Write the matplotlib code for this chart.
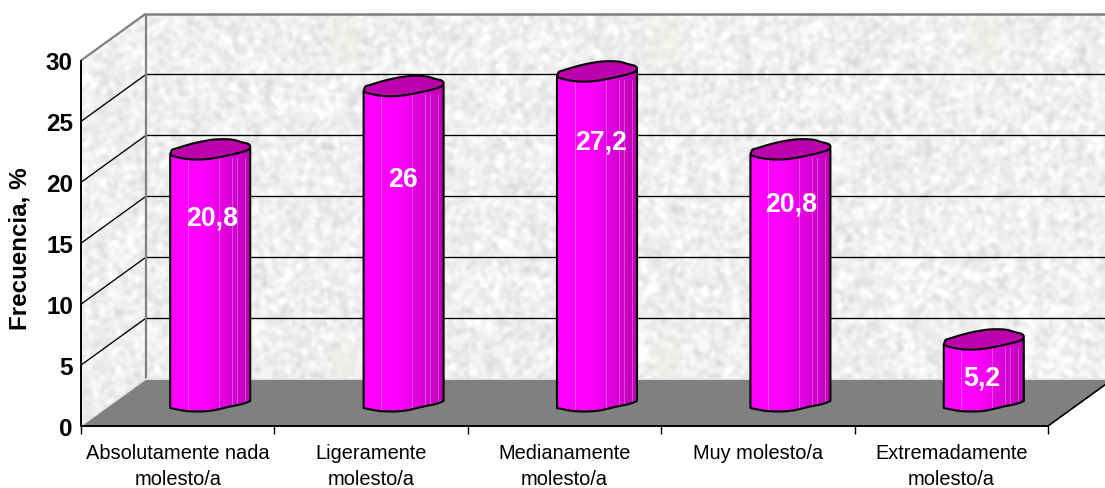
import numpy as np
import matplotlib
matplotlib.use("Agg")
import matplotlib.pyplot as plt
from matplotlib.colors import LinearSegmentedColormap
from matplotlib.patches import Polygon

plt.rcParams['font.family'] = ['Liberation Sans', 'DejaVu Sans']

# ---- data ----
categories = ["Absolutamente nada\nmolesto/a", "Ligeramente\nmolesto/a",
              "Medianamente\nmolesto/a", "Muy molesto/a",
              "Extremadamente\nmolesto/a"]
values = [20.8, 26, 27.2, 20.8, 5.2]
value_labels = ["20,8", "26", "27,2", "20,8", "5,2"]
y_ticks = [0, 5, 10, 15, 20, 25, 30]
y_label = "Frecuencia, %"

# ---- layout (pixels of the 1105x489 canvas) ----
W, H = 1105, 489
FX0, FX1, FY0, FY30 = 81.0, 1048.0, 427.0, 61.5
DEPTH_X, DEPTH_Y = 65.0, 47.0
fig = plt.figure(figsize=(W / 100, H / 100), dpi=100, facecolor='white')
ax = fig.add_axes([FX0 / W, (H - FY0) / H, (FX1 - FX0) / W, (FY0 - FY30) / H])
ax.set_xlim(0, len(categories))
ax.set_ylim(0, 30)
ax.patch.set_visible(False)

CAT_PX = (FX1 - FX0) / len(categories)
VAL_PX = (FY0 - FY30) / 30.0


def proj(cat, val, depth=0.0, ox=0.0, oy=0.0):
    """data position + depth (0..1) + pixel offset -> data coords"""
    return (cat + (depth * DEPTH_X + ox) / CAT_PX,
            val + (depth * DEPTH_Y - oy) / VAL_PX)


def chaikin(pts, rounds=2, closed=False):
    """round an outline by corner cutting"""
    pts = [tuple(p) for p in pts]
    for _ in range(rounds):
        out = [] if closed else [pts[0]]
        m = len(pts)
        for j in range(m if closed else m - 1):
            a, b = pts[j], pts[(j + 1) % m]
            out.append((0.75 * a[0] + 0.25 * b[0], 0.75 * a[1] + 0.25 * b[1]))
            out.append((0.25 * a[0] + 0.75 * b[0], 0.25 * a[1] + 0.75 * b[1]))
        if not closed:
            out.append(pts[-1])
        pts = out
    return pts


# ---- mottled wall texture (deterministic hash noise, smoothed) ----
yy, xx = np.mgrid[0:H, 0:W]
h = np.sin(xx * 12.9898 + yy * 78.233) * 43758.5453
h = h - np.floor(h)
h2 = np.sin(xx * 39.346 + yy * 11.135) * 24634.6345
h2 = h2 - np.floor(h2)


def smooth(a, s):
    fy = np.fft.fftfreq(a.shape[0])[:, None]
    fx = np.fft.fftfreq(a.shape[1])[None, :]
    return np.fft.ifft2(np.fft.fft2(a) * np.exp(-2 * (np.pi * s) ** 2 * (fx ** 2 + fy ** 2))).real


n = smooth(h, 2.2) + 0.3 * smooth(h2, 6)
n = (n - n.mean()) / n.std()
gray = np.clip(240 + 6.5 * n, 212, 255) / 255.0
tex = np.dstack([gray, gray, gray])
# faint beige motifs of the tiled picture
for cx, cy in [(345, 40), (665, 40), (985, 40), (345, 365), (665, 362), (985, 365)]:
    m = np.exp(-(((xx - cx) / 15.0) ** 4 + ((yy - cy) / 24.0) ** 4))
    tex[..., 0] = tex[..., 0] * (1 - 0.55 * m) + 0.93 * 0.55 * m
    tex[..., 1] = tex[..., 1] * (1 - 0.55 * m) + 0.935 * 0.55 * m
    tex[..., 2] = tex[..., 2] * (1 - 0.55 * m) + 0.88 * 0.55 * m

x_ext0, _ = proj(0, 0, 0, -FX0, 0)
x_ext1, _ = proj(0, 0, 0, W - FX0, 0)
_, y_ext0 = proj(0, 0, 0, 0, H - FY0)
_, y_ext1 = proj(0, 0, 0, 0, -FY0)
n_cat = len(categories)
top = y_ticks[-1]
corners = {
    'fl0': proj(0, 0), 'fl1': proj(0, top),
    'bl0': proj(0, 0, 1), 'bl1': proj(0, top, 1),
    'br0': proj(n_cat, 0, 1), 'br1': proj(n_cat, top, 1),
    'fr0': proj(n_cat, 0),
}
wall = Polygon([corners['fl0'], corners['fl1'], corners['bl1'], corners['br1'],
                corners['br0'], corners['bl0']], closed=True,
               transform=ax.transData, facecolor='none', edgecolor='none')
ax.add_patch(wall)
wall.set_clip_on(False)
im = ax.imshow(tex, extent=[x_ext0, x_ext1, y_ext0, y_ext1], aspect='auto',
               origin='upper', interpolation='bilinear', zorder=1)
im.set_clip_path(wall)
im.set_clip_box(fig.bbox)
ax.set_xlim(0, n_cat)
ax.set_ylim(0, 30)

# floor
ax.add_patch(Polygon([corners['fl0'], corners['fr0'], corners['br0'], corners['bl0']],
                     closed=True, facecolor='#808080', edgecolor='none', zorder=2, clip_on=False))


def seg(a, b, **kw):
    return ax.plot([a[0], b[0]], [a[1], b[1]], clip_on=False, solid_capstyle='butt', **kw)[0]


# floor edges and wall frame
seg(corners['bl0'], corners['br0'], color='#e8e8e8', lw=1.3, zorder=2.5)
seg(corners['fl0'], corners['bl0'], color='#e0e0e0', lw=1.0, zorder=2.5)
seg(corners['fr0'], corners['br0'], color='black', lw=1.2, zorder=2.5)
seg(corners['bl0'], corners['bl1'], color='#808080', lw=1.6, zorder=2.4)
seg(corners['fl1'], corners['bl1'], color='#808080', lw=1.6, zorder=2.4)
seg(corners['bl1'], corners['br1'], color='#808080', lw=1.8, zorder=2.4)

# gridlines: side wall then back wall
for t in y_ticks[1:-1]:
    seg(proj(0, t), proj(0, t, 1), color='black', lw=0.95, zorder=2.3)
    seg(proj(0, t, 1), proj(n_cat, t, 1), color='black', lw=0.95, zorder=2.3)

# ---- cylinders ----
# outline shape of the low-poly cap/base, in pixels relative to the cylinder centre
HALF = 40.0
CAP_TOP = [(-HALF, 5.5), (-38.5, 0.5), (-35.5, -0.2), (-18.5, -5.5), (-2.5, -8.8), (8, -10), (22.5, -9.8),
           (31.5, -6.8), (HALF, -5), (HALF, 0.5)]
CAP_FRONT = [(HALF, 0.5), (26.5, 4.5), (-2.5, 10.5), (-22.5, 10.5), (-37.5, 7)]
BASE_FRONT = [(-HALF, 5.5), (-35, 6.5), (-22.5, 9), (-0.5, 9), (19.5, 4), (33, 1.5), (HALF, -1.5)]
FACET_LINES = [-22.5, 8.5, 21.5, 26.5, 34.5]
body_cmap = LinearSegmentedColormap.from_list(
    'body', [(0, '#ff00ff'), (0.4, '#ff00ff'), (0.55, '#f000ee'), (0.72, '#dc00d8'),
             (0.87, '#cc00c8'), (1, '#be00b5')])
grad = np.linspace(0, 1, 80)[None, :]
BASE_SMOOTH = chaikin(BASE_FRONT, 2)
CAP_SMOOTH = chaikin(CAP_TOP + CAP_FRONT[1:], 2, closed=True)

for i, v in enumerate(values):
    c = i + 0.5
    P = lambda val, off: proj(c, val, 0.5, off[0], off[1])
    outline = [P(v, (-HALF, 5.5))] + [P(0, o) for o in BASE_SMOOTH] + [P(v, (HALF, 0.5))]
    side = Polygon(outline, closed=True, facecolor='#ff00ff', edgecolor='none', zorder=3,
                   clip_on=False)
    ax.add_patch(side)
    x0, _ = P(0, (-HALF, 0))
    x1, _ = P(0, (HALF, 0))
    _, y0 = P(0, (0, 14))
    _, y1 = P(v, (0, -14))
    g = ax.imshow(grad, extent=[x0, x1, y0, y1], aspect='auto', cmap=body_cmap,
                  vmin=0, vmax=1, zorder=3.1, interpolation='bilinear')
    g.set_clip_path(side)
    g.set_clip_box(fig.bbox)
    # facet lines
    for fx in FACET_LINES:
        a, b = P(0, (fx, 12)), P(v, (fx, 8))
        ln = seg(a, b, color='white', lw=0.7, alpha=0.3, zorder=3.2)
        ln.set_clip_on(True)
        ln.set_clip_path(side)
        ln.set_clip_box(fig.bbox)
    # outline of the side
    xs, ys = zip(*outline)
    ax.plot(xs, ys, color='black', lw=1.5, zorder=3.5, clip_on=False, solid_joinstyle='round')
    # cap
    ax.add_patch(Polygon([P(v, o) for o in CAP_SMOOTH], closed=True, facecolor='#bc00ac',
                         edgecolor='black', lw=1.5, zorder=3.6, clip_on=False, joinstyle='round'))

ax.set_xlim(0, n_cat)
ax.set_ylim(0, 30)

# value labels (hand-placed in the original: pixel height on the canvas)
LABEL_Y_PX = [218, 180, 143, 204.5, 379]
LABEL_X_OFF = [1.5, -1, 4, 1, -2]
for i, (lab, ypx) in enumerate(zip(value_labels, LABEL_Y_PX)):
    x, _ = proj(i + 0.5, 0, 0.5, LABEL_X_OFF[i], 0)
    ax.text(x, (FY0 - ypx) / VAL_PX, lab, color='white', fontweight='bold', fontsize=19.2,
            ha='center', va='center', zorder=5, clip_on=False)

# ---- axes ----
for s in ['top', 'right']:
    ax.spines[s].set_visible(False)
for s in ['left', 'bottom']:
    ax.spines[s].set_linewidth(1.4)
    ax.spines[s].set_zorder(4)
ax.set_yticks(y_ticks)
ax.set_yticklabels([str(t) for t in y_ticks], fontsize=17.5, fontweight='bold')
ax.tick_params(axis='y', length=0, pad=5.8)
ax.set_xticks(range(n_cat + 1))
ax.set_xticklabels([""] * (n_cat + 1))
ax.tick_params(axis='x', length=6, width=1.0)
for i, lab in enumerate(categories):
    ax.text(i + 0.5, -(444 - FY0) / VAL_PX, lab, ha='center', va='top', fontsize=14.4,
            linespacing=1.45, color='black', clip_on=False)
ax.text(-(FX0 - 20.5) / CAT_PX, (FY0 - 249) / VAL_PX, y_label, rotation=90, ha='center', va='center',
        fontsize=17.4, fontweight='bold', clip_on=False)

fig.savefig('out.png', dpi=100, facecolor='white')
